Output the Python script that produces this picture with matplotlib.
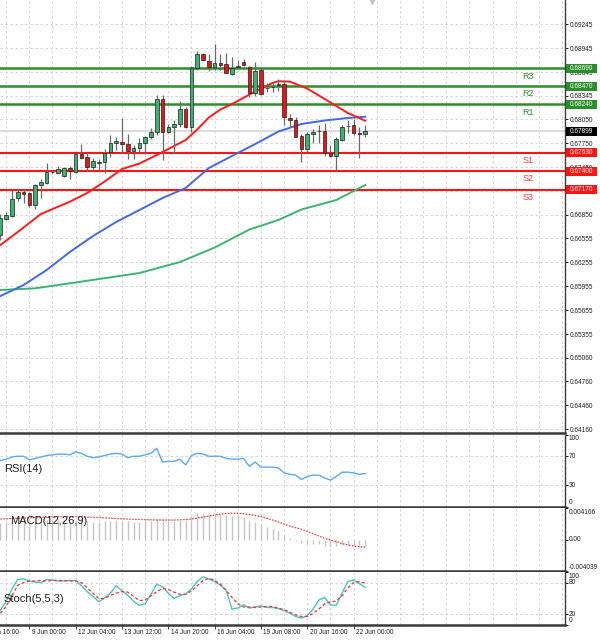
import numpy as np
import matplotlib.pyplot as plt
import matplotlib.transforms as mtransforms
from matplotlib.patches import Rectangle

plt.rcParams['font.family'] = ['Liberation Sans', 'DejaVu Sans']

# ---- 4H candles ----
opens = [0.66598, 0.66803, 0.66841, 0.67059, 0.67135, 0.67122, 0.66975, 0.67226,
         0.67255, 0.67386, 0.67381, 0.67343, 0.67444, 0.67386, 0.67616, 0.67582,
         0.67456, 0.67503, 0.67519, 0.67645, 0.67750, 0.67770, 0.67738, 0.67657,
         0.67687, 0.67750, 0.67826, 0.67896, 0.68303, 0.67896, 0.67955, 0.67989,
         0.68177, 0.67951, 0.68692, 0.68872, 0.68788, 0.68705, 0.68755, 0.68746,
         0.68621, 0.68712, 0.68775, 0.68705, 0.68378, 0.68671, 0.68441, 0.68454,
         0.68482, 0.68491, 0.68064, 0.68043, 0.67842, 0.67675, 0.67863, 0.67901,
         0.67908, 0.67632, 0.67591, 0.67792, 0.67964, 0.67980, 0.67876, 0.67863]
highs = [0.66862, 0.66887, 0.67164, 0.67172, 0.67176, 0.67142, 0.67239, 0.67302,
         0.67506, 0.67415, 0.67465, 0.67456, 0.67465, 0.67625, 0.67738, 0.67632,
         0.67566, 0.67549, 0.67675, 0.67854, 0.67833, 0.68064, 0.67863, 0.67729,
         0.67817, 0.67842, 0.67939, 0.68357, 0.68357, 0.67993, 0.68043, 0.68281,
         0.68206, 0.68715, 0.68913, 0.68881, 0.68872, 0.68997, 0.68872, 0.68888,
         0.68830, 0.68796, 0.68805, 0.68721, 0.68775, 0.68696, 0.68504, 0.68504,
         0.68554, 0.68545, 0.68118, 0.68077, 0.67867, 0.67892, 0.67930, 0.67980,
         0.68001, 0.67729, 0.67826, 0.67980, 0.68043, 0.68052, 0.67959, 0.67976]
lows = [0.66536, 0.66787, 0.66828, 0.67029, 0.67000, 0.66954, 0.66921, 0.67063,
        0.67235, 0.67365, 0.67377, 0.67323, 0.67302, 0.67373, 0.67555, 0.67406,
        0.67415, 0.67415, 0.67373, 0.67574, 0.67666, 0.67625, 0.67549, 0.67549,
        0.67641, 0.67616, 0.67810, 0.67854, 0.67540, 0.67880, 0.67632, 0.67959,
        0.67942, 0.67896, 0.68671, 0.68790, 0.68662, 0.68671, 0.68671, 0.68629,
        0.68614, 0.68702, 0.68721, 0.68328, 0.68344, 0.68357, 0.68398, 0.68398,
        0.68411, 0.67980, 0.67959, 0.67826, 0.67519, 0.67645, 0.67750, 0.67750,
        0.67591, 0.67582, 0.67406, 0.67785, 0.67876, 0.67854, 0.67562, 0.67826]
closes = [0.66812, 0.66846, 0.67047, 0.67135, 0.67113, 0.66975, 0.67226, 0.67268,
          0.67393, 0.67393, 0.67424, 0.67444, 0.67406, 0.67612, 0.67562, 0.67456,
          0.67532, 0.67515, 0.67625, 0.67750, 0.67779, 0.67738, 0.67657, 0.67695,
          0.67750, 0.67826, 0.67896, 0.68303, 0.67896, 0.67959, 0.67989, 0.68177,
          0.67951, 0.68692, 0.68872, 0.68796, 0.68705, 0.68755, 0.68734, 0.68637,
          0.68692, 0.68717, 0.68734, 0.68378, 0.68662, 0.68369, 0.68451, 0.68461,
          0.68491, 0.68077, 0.68039, 0.67833, 0.67675, 0.67867, 0.67896, 0.67905,
          0.67625, 0.67591, 0.67800, 0.67959, 0.67971, 0.67876, 0.67863, 0.67899]
last_price = 0.67899

# moving averages, sampled along the lines
ma_fast_bars = [0, 3, 7, 12, 15, 18, 21, 24, 27, 30, 32, 34, 36, 38, 40, 44, 47, 48, 50, 53, 56, 60, 63]
ma_fast = [0.66473, 0.66636, 0.66862, 0.67017, 0.67126, 0.67270, 0.67427, 0.67496,
           0.67603, 0.67716, 0.67792, 0.67924, 0.68074, 0.68175, 0.68244, 0.68401,
           0.68508, 0.68530, 0.68525, 0.68438, 0.68307, 0.68131, 0.68034]
ma_mid_bars = [0, 4, 8, 12, 16, 20, 24, 28, 32, 36, 40, 44, 48, 52, 56, 60, 63]
ma_mid = [0.65832, 0.65970, 0.66159, 0.66385, 0.66586, 0.66762, 0.66912, 0.67063,
          0.67189, 0.67440, 0.67591, 0.67741, 0.67898, 0.67993, 0.68037, 0.68068, 0.68084]
ma_slow_bars = [0, 6, 12, 19, 24, 31, 37, 43, 48, 52, 58, 63]
ma_slow = [0.65908, 0.65929, 0.65992, 0.66067, 0.66121, 0.66259, 0.66441, 0.66667,
           0.66787, 0.66919, 0.67038, 0.67226]

res_names = ['R3', 'R2', 'R1']
res_levels = [0.68690, 0.68470, 0.68240]
sup_names = ['S1', 'S2', 'S3']
sup_levels = [0.67630, 0.67400, 0.67170]

price_ticks = ['0.69245', '0.68945', '0.68645', '0.68345', '0.68050', '0.67750',
               '0.67450', '0.67150', '0.66850', '0.66555', '0.66255', '0.65955',
               '0.65655', '0.65355', '0.65060', '0.64760', '0.64460', '0.64160']
hidden_ticks = ['0.67150']   # sits fully under the S3 box

date_bars = [-3, 5, 13, 21, 29, 37, 45, 53, 61]
date_labels = ['8 Jun 16:00', '9 Jun 00:00', '12 Jun 04:00', '13 Jun 12:00', '14 Jun 20:00',
               '16 Jun 04:00', '19 Jun 08:00', '20 Jun 16:00', '22 Jun 00:00']

rsi = [64, 66, 69, 70, 70, 65, 67, 69, 71, 72, 73, 73, 72, 76, 74, 70,
       68, 69, 71, 73, 74, 73, 68, 70, 70, 72, 74, 81, 62, 63, 63, 66,
       58, 71, 74, 73, 70, 70, 70, 67, 66, 66, 67, 56, 62, 55, 55, 55,
       54, 47, 45, 44, 38, 42, 44, 44, 40, 37, 42, 48, 48, 47, 45, 46]

macd_hist = [0.00221, 0.00234, 0.00247, 0.00254, 0.00247, 0.00234, 0.00241, 0.00247,
             0.00254, 0.00254, 0.00254, 0.00254, 0.00247, 0.00254, 0.00254, 0.00241,
             0.00234, 0.00234, 0.00241, 0.00247, 0.00254, 0.00247, 0.00241, 0.00234,
             0.00234, 0.00241, 0.00247, 0.00273, 0.00254, 0.00247, 0.00241, 0.00260,
             0.00254, 0.00312, 0.00345, 0.00352, 0.00352, 0.00345, 0.00339, 0.00326,
             0.00312, 0.00306, 0.00293, 0.00247, 0.00228, 0.00195, 0.00169, 0.00143,
             0.00117, 0.00065, 0.00026, -0.00007, -0.00039, -0.00046, -0.00046, -0.00052,
             -0.00078, -0.00091, -0.00078, -0.00065, -0.00059, -0.00072, -0.00078, -0.00072]
macd_signal = [0.00273, 0.00276, 0.00280, 0.00283, 0.00286, 0.00289, 0.00293, 0.00296,
               0.00299, 0.00301, 0.00303, 0.00303, 0.00303, 0.00303, 0.00301, 0.00299,
               0.00296, 0.00293, 0.00289, 0.00283, 0.00280, 0.00276, 0.00273, 0.00270,
               0.00267, 0.00265, 0.00263, 0.00260, 0.00260, 0.00260, 0.00260, 0.00263,
               0.00267, 0.00273, 0.00286, 0.00299, 0.00312, 0.00326, 0.00336, 0.00345,
               0.00348, 0.00348, 0.00342, 0.00332, 0.00319, 0.00303, 0.00283, 0.00260,
               0.00234, 0.00208, 0.00182, 0.00160, 0.00140, 0.00111, 0.00081, 0.00052,
               0.00022, 0.00000, -0.00020, -0.00046, -0.00065, -0.00078, -0.00088, -0.00095]

stoch_k = [28, 45, 68, 86, 87, 83, 81, 80, 86, 85, 83, 83, 84, 84, 74, 63,
           54, 44, 51, 60, 74, 65, 56, 45, 37, 40, 58, 77, 72, 60, 50, 55,
           59, 68, 82, 91, 87, 82, 75, 65, 30, 32, 38, 32, 34, 36, 33, 33,
           31, 27, 22, 16, 13, 18, 30, 47, 52, 38, 37, 60, 82, 85, 78, 71]
stoch_d = [22, 35, 55, 75, 80, 83, 83, 84, 83, 84, 84, 84, 83, 83, 80, 70,
           60, 50, 50, 56, 60, 63, 62, 54, 46, 47, 55, 63, 69, 67, 62, 58,
           58, 64, 74, 84, 88, 84, 77, 65, 52, 40, 34, 34, 33, 34, 35, 35,
           32, 29, 24, 19, 16, 16, 22, 30, 40, 44, 45, 55, 70, 80, 82, 79]

# ---- layout (pixel geometry of the terminal screenshot) ----
FW, FH = 600, 641
fig = plt.figure(figsize=(FW / 100, FH / 100), dpi=100)
fig.patch.set_facecolor('white')
right = 565 / FW


def panel(top, bottom):
    return fig.add_axes([0, 1 - bottom / FH, right, (bottom - top) / FH])


ax = panel(0, 433)
ax_rsi = panel(434.5, 507)
ax_macd = panel(508, 571)
ax_st = panel(572, 625)
axes = [ax, ax_rsi, ax_macd, ax_st]

XMIN, XMAX = -0.06, 97.5
grid_col = '#cfcfcf'
tick_font = dict(fontsize=4.7, color='#1e1e1e')
for a in axes:
    a.set_xlim(XMIN, XMAX)
    a.set_facecolor('white')
    a.spines['left'].set_visible(False)
    a.spines['top'].set_visible(False)
    a.spines['bottom'].set_color('#3a3a3a')
    a.spines['bottom'].set_linewidth(1.8)
    a.spines['right'].set_color('#3a3a3a')
    a.spines['right'].set_linewidth(1.0)
    a.yaxis.tick_right()
    a.tick_params(axis='y', length=2, width=0.7, pad=1.5, labelsize=4.7, colors='#1e1e1e')
    a.tick_params(axis='x', length=0)
    a.set_xticks([])
    for gx in range(1, 98, 4):
        a.axvline(gx, color=grid_col, lw=0.6, ls=(0, (3, 3)), zorder=0)

# ---- main price panel ----
ax.set_ylim(0.641119, 0.695502)
ax.set_yticks([float(t) for t in price_ticks])
ax.set_yticklabels(['' if t in hidden_ticks else t for t in price_ticks])
for t in price_ticks:
    ax.axhline(float(t), color=grid_col, lw=0.6, ls=(0, (3, 3)), zorder=0)

ax.axhline(last_price, color='#dcdcdc', lw=1.5, zorder=1)
for lvl in res_levels:
    ax.axhline(lvl, color='#2a8f2a', lw=1.8, zorder=2)
for lvl in sup_levels:
    ax.axhline(lvl, color='#ff1414', lw=1.5, zorder=2)

ax.plot(ma_slow_bars, ma_slow, color='#3cb371', lw=1.4, zorder=3)
ax.plot(ma_mid_bars, ma_mid, color='#4169e1', lw=1.4, zorder=3)
ax.plot(ma_fast_bars, ma_fast, color='#ff1a1a', lw=1.4, zorder=3)

o = np.array(opens)
c = np.array(closes)
bars = np.arange(len(o))
up = c >= o
body_lo = np.minimum(o, c)
body_h = np.maximum(np.abs(c - o), 0.00004)
ax.vlines(bars, lows, highs, color='#6a6a6a', lw=0.9, zorder=4)
ax.bar(bars[up], body_h[up], bottom=body_lo[up], width=0.62, color='#3cb371',
       edgecolor='#1e1e1e', lw=0.5, zorder=5)
ax.bar(bars[~up], body_h[~up], bottom=body_lo[~up], width=0.62, color='#e8141a',
       edgecolor='#1e1e1e', lw=0.5, zorder=5)

# level names
for name, lvl in zip(res_names, res_levels):
    ax.annotate(name, (91.1, lvl), xytext=(0, -5.6), textcoords='offset points',
                ha='center', va='center', fontsize=6.5, color='#2e8b2e', zorder=6)
for name, lvl in zip(sup_names, sup_levels):
    ax.annotate(name, (91.1, lvl), xytext=(0, -5.6), textcoords='offset points',
                ha='center', va='center', fontsize=6.5, color='#ff3b3b', zorder=6)

# price boxes on the axis
blend = mtransforms.blended_transform_factory(ax.transAxes, ax.transData)
box_w = 31 / 565
box_h = 9 / 7962


def price_box(val, face):
    ax.add_patch(Rectangle((1.0015, val - box_h / 2), box_w, box_h, transform=blend,
                           facecolor=face, edgecolor='none', clip_on=False, zorder=10))
    ax.text(1.0015 + box_w / 2, val, f'{val:.5f}', transform=blend, ha='center',
            va='center', fontsize=4.7, color='white', clip_on=False, zorder=11)


for lvl in res_levels:
    price_box(lvl, '#2a8f2a')
for lvl in sup_levels:
    price_box(lvl, '#ff1414')
price_box(last_price, '#000000')

# chart-shift marker at the top
ax.plot([64.2], [0.69540], marker='v', ms=5, color='#c4c4c4', clip_on=False, zorder=6)


def side_label(a, val, txt, va='center'):
    tr = mtransforms.blended_transform_factory(a.transAxes, a.transData)
    a.text(1.006, val, txt, transform=tr, ha='left', va=va, clip_on=False, **tick_font)


# ---- RSI ----
ax_rsi.set_ylim(0, 100)
ax_rsi.set_yticks([0, 30, 70, 100])
ax_rsi.set_yticklabels([])
for lv in [70, 30]:
    ax_rsi.axhline(lv, color=grid_col, lw=0.6, ls=(0, (3, 3)), zorder=0)
ax_rsi.plot(bars, rsi, color='#5aaaf5', lw=1.0, zorder=3)
side_label(ax_rsi, 99, '100', 'top')
side_label(ax_rsi, 70, '70')
side_label(ax_rsi, 30, '30')
side_label(ax_rsi, 1, '0', 'bottom')
ax_rsi.text(0.007, 0.52, 'RSI(14)', transform=ax_rsi.transAxes, fontsize=8,
            color='#1e1e1e', va='center', ha='left')

# ---- MACD ----
ax_macd.set_ylim(-0.004039, 0.004166)
ax_macd.set_yticks([-0.004039, 0.0, 0.004166])
ax_macd.set_yticklabels([])
ax_macd.vlines(bars, 0, macd_hist, color='#c4c4c4', lw=1.0, zorder=2)
ax_macd.plot(bars, macd_signal, color='#ff2a2a', lw=0.9, ls=(0, (1.2, 1.2)), zorder=3)
side_label(ax_macd, 0.0041, '0.004166', 'top')
side_label(ax_macd, 0.0, '0.00')
side_label(ax_macd, -0.00398, '-0.004039', 'bottom')
ax_macd.text(0.018, 0.8, 'MACD(12,26,9)', transform=ax_macd.transAxes, fontsize=8,
             color='#1e1e1e', va='center', ha='left', zorder=5)

# ---- Stochastic ----
ax_st.set_ylim(0, 100)
ax_st.set_yticks([0, 20, 80, 100])
ax_st.set_yticklabels([])
for lv in [80, 20]:
    ax_st.axhline(lv, color=grid_col, lw=0.6, ls=(0, (3, 3)), zorder=0)
ax_st.plot(bars, stoch_k, color='#45c4c4', lw=1.0, zorder=3)
ax_st.plot(bars, stoch_d, color='#ff3030', lw=0.9, ls=(0, (2.5, 1.8)), zorder=3)
side_label(ax_st, 99, '100', 'top')
side_label(ax_st, 80, '80')
side_label(ax_st, 20, '20')
side_label(ax_st, 1, '0', 'bottom')
ax_st.text(0.007, 0.5, 'Stoch(5,5,3)', transform=ax_st.transAxes, fontsize=8,
           color='#1e1e1e', va='center', ha='left')

# dates along the bottom
ax_st.set_xticks([b for b in date_bars if b >= 0])
ax_st.tick_params(axis='x', length=3, width=0.7, color='#3a3a3a', labelbottom=False)
for b, lab in zip(date_bars, date_labels):
    ax_st.annotate(lab, (b, 0), xycoords=('data', 'axes fraction'), xytext=(1.6, -2.6),
                   textcoords='offset points', ha='left', va='top', fontsize=4.7,
                   color='#1e1e1e', annotation_clip=False)

fig.savefig('out.png', dpi=100, facecolor='white')
